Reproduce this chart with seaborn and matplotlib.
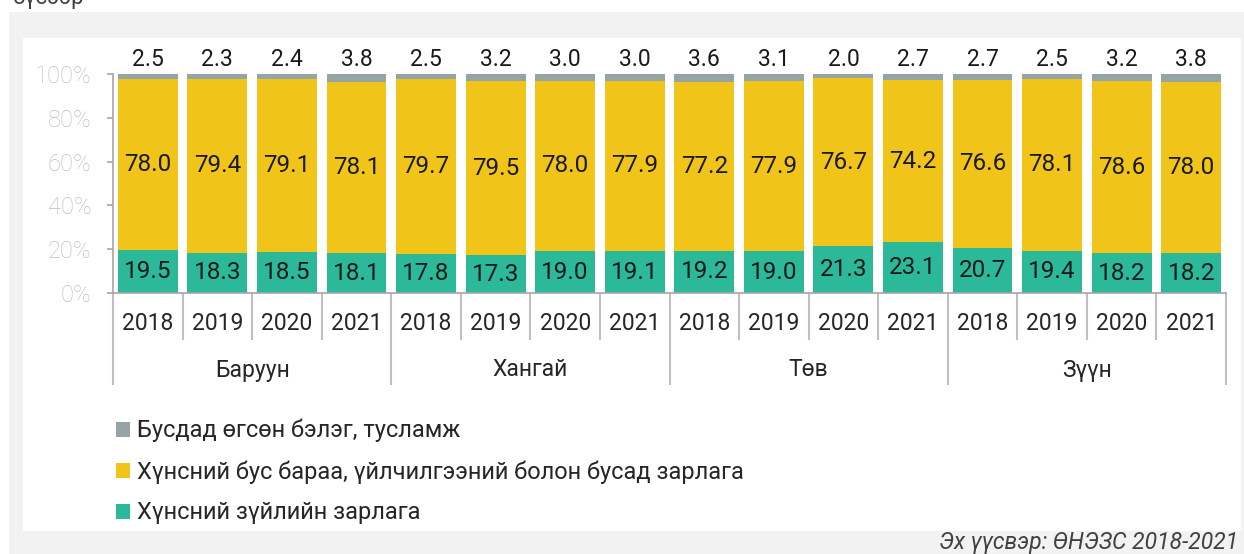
import numpy as np
import pandas as pd
import matplotlib
matplotlib.use("Agg")
import matplotlib.pyplot as plt
import seaborn as sns
from matplotlib.patches import Rectangle

# ---------------- data ----------------
regions = ["Баруун", "Хангай", "Төв", "Зүүн"]
years = ["2018", "2019", "2020", "2021"]
food = [19.5, 18.3, 18.5, 18.1, 17.8, 17.3, 19.0, 19.1,
        19.2, 19.0, 21.3, 23.1, 20.7, 19.4, 18.2, 18.2]
nonfood = [78.0, 79.4, 79.1, 78.1, 79.7, 79.5, 78.0, 77.9,
           77.2, 77.9, 76.7, 74.2, 76.6, 78.1, 78.6, 78.0]
gifts = [2.5, 2.3, 2.4, 3.8, 2.5, 3.2, 3.0, 3.0,
         3.6, 3.1, 2.0, 2.7, 2.7, 2.5, 3.2, 3.8]
series_labels = ["Бусдад өгсөн бэлэг, тусламж",
                 "Хүнсний бус бараа, үйлчилгээний болон бусад зарлага",
                 "Хүнсний зүйлийн зарлага"]
yticks = [0, 20, 40, 60, 80, 100]
source = "Эх үүсвэр: ӨНЭЗС 2018-2021"
title_fragment = "бүсээр"

C_GRAY = "#95a5a6"
C_YEL = "#f1c419"
C_GRN = "#2bb999"

keys = [f"{r}|{y}" for r in regions for y in years]
df = pd.DataFrame({
    "key": keys,
    "food": food,
    "nonfood": nonfood,
    "gift": gifts,
})
df["lvl2"] = df["food"] + df["nonfood"]
df["lvl3"] = df["lvl2"] + df["gift"]

# ---------------- style ----------------
sns.set_theme(style="white")
plt.rcParams['font.family'] = ['Roboto', 'DejaVu Sans']
plt.rcParams['font.weight'] = 'normal'

W, H = 1244, 554
fig = plt.figure(figsize=(W / 100, H / 100), dpi=100, facecolor="white")
fig.patches.append(Rectangle((9 / W, 0), (W - 9) / W, (H - 12) / H,
                             transform=fig.transFigure, facecolor="#f2f2f2",
                             edgecolor="none", zorder=-3))
fig.patches.append(Rectangle((23 / W, (H - 531) / H), (1241 - 23) / W, (531 - 38) / H,
                             transform=fig.transFigure, facecolor="white",
                             edgecolor="none", zorder=-2))

ax = fig.add_axes([113 / W, (H - 293) / H, (1226 - 113) / W, (293 - 74) / H])
ax.set_facecolor("none")

bw = 0.86
sns.barplot(data=df, x="key", y="lvl3", order=keys, color=C_GRAY, saturation=1,
            width=bw, errorbar=None, linewidth=0, ax=ax)
sns.barplot(data=df, x="key", y="lvl2", order=keys, color=C_YEL, saturation=1,
            width=bw, errorbar=None, linewidth=0, ax=ax)
sns.barplot(data=df, x="key", y="food", order=keys, color=C_GRN, saturation=1,
            width=bw, errorbar=None, linewidth=0, ax=ax)

c_gray, c_yel, c_grn = ax.containers[:3]

lab_col = "#1a1a1a"
ax.bar_label(c_gray, labels=[f"{v:.1f}" for v in gifts], padding=2,
             fontsize=16.5, color=lab_col)
ax.bar_label(c_grn, labels=[f"{v:.1f}" for v in food], label_type="center",
             fontsize=17.5, color=lab_col)
for i, row in df.iterrows():
    ax.text(i, row["food"] + row["nonfood"] / 2, f"{row['nonfood']:.1f}",
            ha="center", va="center", fontsize=17.5, color=lab_col)

ax.set_ylim(0, 100)
ax.set_xlim(-0.5, len(keys) - 0.5)
ax.set_yticks(yticks)
ax.set_yticklabels([f"{t}%" for t in yticks], fontweight="light")
ax.tick_params(axis="y", left=True, length=4.5, width=1.2, color="#a6a6a6",
               labelsize=17, labelcolor="#bfbfbf", pad=11)
ax.set_xticks([])
ax.set_xlabel("")
ax.set_ylabel("")
for s in ["top", "right"]:
    ax.spines[s].set_visible(False)
for s in ["left", "bottom"]:
    ax.spines[s].set_color("#a6a6a6")
    ax.spines[s].set_linewidth(1.2)

# multi-level category axis
unit = 219 / 100.0
for i, k in enumerate(keys):
    ax.text(i, -30 / unit, years[i % 4], ha="center", va="center",
            fontsize=16.5, color="#262626", clip_on=False)
for b in range(len(keys) + 1):
    bottom = -92 / unit if b % 4 == 0 else -47 / unit
    ax.plot([b - 0.5, b - 0.5], [0, bottom], color="#bfbfbf", lw=1.5,
            clip_on=False, solid_capstyle="butt")
for g, r in enumerate(regions):
    ax.text(g * 4 + 1.5, -77 / unit, r, ha="center", va="center",
            fontsize=16.5, color="#262626", clip_on=False)

# legend
handles = [c_gray.patches[0], c_yel.patches[0], c_grn.patches[0]]
fig.legend(handles, series_labels, loc="upper left",
           bbox_to_anchor=(116 / W, 1 - 419 / H), frameon=False,
           handlelength=0.6, handleheight=0.6, handletextpad=0.3,
           labelspacing=0.75, borderpad=0, borderaxespad=0,
           prop={"size": 17}, labelcolor="#262626")

fig.text(1238 / W, 1 - 543 / H, source, ha="right", va="center",
         fontsize=16.5, style="italic", color="#404040")
fig.text(13 / W, 1 - 4 / H, title_fragment, ha="left", va="baseline",
         fontsize=16, color="#404040")

fig.savefig("out.png", dpi=100, facecolor="white")
